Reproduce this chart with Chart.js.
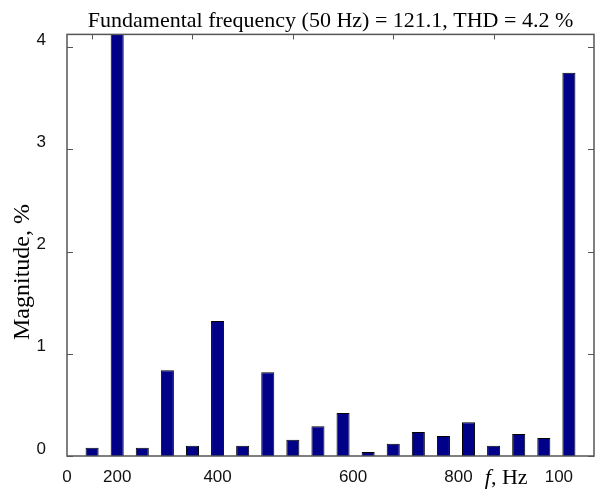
<!DOCTYPE html>
<html>
<head>
<meta charset="utf-8">
<script src="https://cdn.jsdelivr.net/npm/chart.js@4.4.1/dist/chart.umd.min.js"></script>
<style>
  html, body { margin: 0; padding: 0; background: #fff; }
  #wrap { width: 598px; height: 491px; }
</style>
</head>
<body>
<div id="wrap"><canvas id="spectrum"></canvas></div>
<script>
// harmonicas (posição da barra) e magnitude em %
const harmonicas = [1, 2, 3, 4, 5, 6, 7, 8, 9, 10, 11, 12, 13, 14, 15, 16, 17, 18, 19, 20];
const magnitudes = [0.08, 4.6, 0.08, 0.84, 0.10, 1.32, 0.10, 0.82, 0.16, 0.29,
                    0.42, 0.04, 0.12, 0.235, 0.195, 0.33, 0.10, 0.215, 0.175, 3.75];

// rótulos do eixo x como aparecem na figura original
const xTickPos = [0, 2, 6, 11.4, 15.6, 19.6];
const xTickLabels = ["0", "200", "400", "600", "800", "100"];
const xMarkPos = [1, 5, 9, 13, 17];
const yTicks = [0, 1, 2, 3, 4];

const boxColor = "#555";

// marcas para dentro (antes das barras), caixa e textos depois
const matlabBox = {
    id: "matlabBox",
    beforeDatasetsDraw(chart) {
        const { ctx, chartArea: a, scales } = chart;
        ctx.save();
        ctx.strokeStyle = boxColor;
        ctx.lineWidth = 1;
        ctx.beginPath();
        xMarkPos.forEach((v) => {
            const px = Math.round(scales.x.getPixelForValue(v)) + 0.5;
            ctx.moveTo(px, a.top); ctx.lineTo(px, a.top + 5);
            ctx.moveTo(px, a.bottom); ctx.lineTo(px, a.bottom - 5);
        });
        yTicks.forEach((v) => {
            const py = Math.round(scales.y.getPixelForValue(v)) + 0.5;
            ctx.moveTo(a.left, py); ctx.lineTo(a.left + 6, py);
            ctx.moveTo(a.right, py); ctx.lineTo(a.right - 6, py);
        });
        ctx.stroke();
        ctx.restore();
    },
    afterDatasetsDraw(chart) {
        const { ctx, chartArea: a, scales } = chart;
        ctx.save();
        ctx.strokeStyle = boxColor;
        ctx.lineWidth = 1.5;
        ctx.strokeRect(a.left, a.top, a.right - a.left, a.bottom - a.top);

        // f em itálico, ", Hz" normal
        const x0 = scales.x.getPixelForValue(16.65);
        const y0 = 484;
        ctx.fillStyle = "#000";
        ctx.textBaseline = "alphabetic";
        ctx.font = "italic 22px 'Liberation Serif'";
        ctx.fillText("f", x0, y0);
        const w = ctx.measureText("f").width;
        ctx.font = "22px 'Liberation Serif'";
        ctx.fillText(", Hz", x0 + w, y0);

        // rótulo do eixo y, um pouco abaixo do centro como no original
        ctx.translate(23, 272);
        ctx.rotate(-Math.PI / 2);
        ctx.textAlign = "center";
        ctx.textBaseline = "middle";
        ctx.font = "24px 'Liberation Serif'";
        ctx.fillText("Magnitude, %", 0, 0);
        ctx.restore();
    },
};

new Chart(document.getElementById("spectrum"), {
    type: "bar",
    data: {
        labels: harmonicas,
        datasets: [{
            data: harmonicas.map((h, i) => ({ x: h, y: magnitudes[i] })),
            backgroundColor: "#000088",
            borderColor: "#000",
            borderWidth: 1,
            barPercentage: 0.52,
            categoryPercentage: 1,
        }],
    },
    options: {
        responsive: true,
        maintainAspectRatio: false,
        animation: false,
        layout: { padding: { left: 0, right: 4, top: 0, bottom: 0 } },
        plugins: {
            legend: { display: false },
            tooltip: { enabled: false },
            title: {
                display: true,
                fullSize: false,
                text: "Fundamental frequency (50 Hz) = 121.1, THD = 4.2 %",
                color: "#000",
                font: { family: "'Liberation Serif'", size: 22, weight: "normal" },
                padding: { top: 8, bottom: 0 },
            },
        },
        scales: {
            x: {
                type: "linear",
                min: 0,
                max: 21,
                offset: false,
                grid: { display: false, drawTicks: false, offset: false },
                border: { display: false },
                afterBuildTicks(scale) {
                    scale.ticks = xTickPos.map((v) => ({ value: v }));
                },
                afterFit(scale) { scale.height = 35; },
                ticks: {
                    autoSkip: false,
                    maxRotation: 0,
                    padding: 11,
                    color: "#111",
                    font: { family: "'Liberation Sans'", size: 17 },
                    callback: (v, i) => xTickLabels[i],
                },
            },
            y: {
                min: 0,
                max: 4.125,
                grid: { display: false, drawTicks: false },
                border: { display: false },
                afterBuildTicks(scale) {
                    scale.ticks = yTicks.map((v) => ({ value: v }));
                },
                afterFit(scale) { scale.width = 67; },
                ticks: {
                    padding: 21,
                    labelOffset: -7,
                    color: "#111",
                    font: { family: "'Liberation Sans'", size: 17 },
                },
            },
        },
    },
    plugins: [matlabBox],
});
</script>
</body>
</html>
